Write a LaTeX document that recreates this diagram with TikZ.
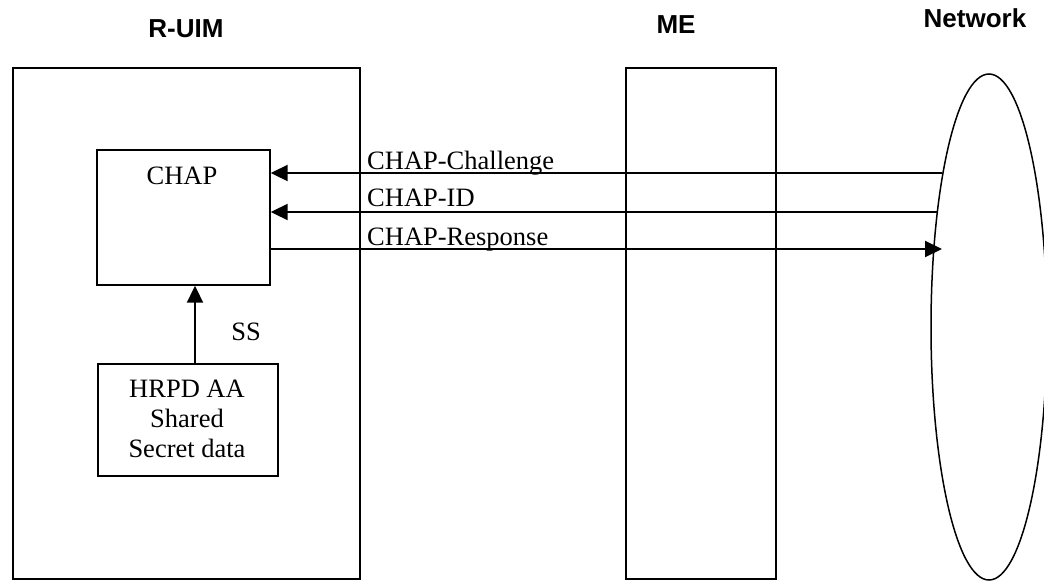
\documentclass[tikz,border=0pt]{standalone}
\usepackage{fontspec}
\setmainfont{Liberation Serif}
\newfontfamily\headfont{Liberation Sans}
\usetikzlibrary{arrows.meta,positioning,shapes.geometric}

\begin{document}
\begin{tikzpicture}[x=1pt,y=-1pt,font=\fontsize{26.5}{30}\selectfont,
    >={Triangle[length=17pt,width=16pt]},
    box/.style={draw,line width=1.7pt,inner sep=0pt,anchor=north west},
    head/.style={font=\headfont\bfseries\fontsize{26}{30}\selectfont,anchor=base},
    msg/.style={anchor=base west,inner sep=0pt},
    arr/.style={->,line width=2pt}]
  \useasboundingbox (0,0) rectangle (1044,581);
  % entities
  \node[head] (ruimlbl) at (186,37) {R-UIM};
  \node[head] (melbl) at (676,33) {ME};
  \node[head] (netlbl) at (975,27) {Network};
  \node[box,minimum width=347pt,minimum height=511pt] (ruim) at (12,67) {};
  \node[box,minimum width=150pt,minimum height=511pt] (me) at (625,67) {};
  \node[draw,ellipse,line width=1.5pt,inner sep=0pt,
        minimum width=116pt,minimum height=506pt] (net) at (989,327) {};
  % inside the R-UIM
  \node[box,minimum width=173pt,minimum height=135pt] (chap) at (96,149) {};
  \node[anchor=base] (chaplbl) at (182,184) {CHAP};
  \node[box,minimum width=180pt,minimum height=112pt] (hrpd) at (97,363) {};
  \node[anchor=base,align=center] (hrpdlbl) at (187,457)
    {HRPD AA\\Shared\\Secret data};
  \draw[arr] (hrpd.north -| 195,0) -- (chap.south -| 195,0)
    node[pos=0.5,anchor=base west,xshift=32pt,yshift=-16.5pt] (sslbl) {SS};
  % messages
  \coordinate (chl) at (942,173);
  \coordinate (cid) at (937,212);
  \coordinate (rsp) at (942,249);
  \draw[arr] (chl) -- (chl -| chap.east);
  \draw[arr] (cid) -- (cid -| chap.east);
  \draw[arr] (rsp -| chap.east) -- (rsp);
  \node[msg] (chllbl) at (367,169) {CHAP-Challenge};
  \node[msg] (cidlbl) at (367,206) {CHAP-ID};
  \node[msg] (rsplbl) at (367,245) {CHAP-Response};
\end{tikzpicture}
\end{document}
